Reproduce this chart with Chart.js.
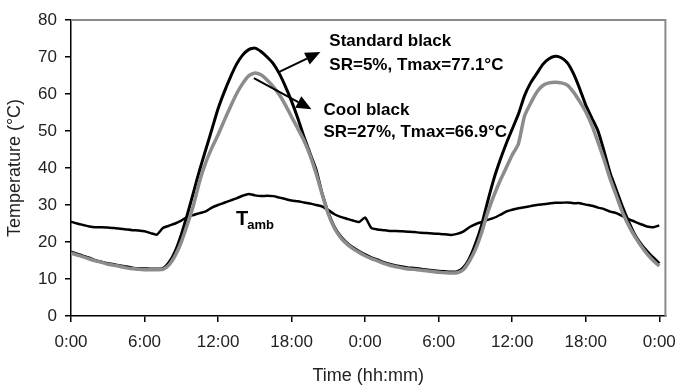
<!DOCTYPE html>
<html>
<head>
<meta charset="utf-8">
<script src="https://cdn.jsdelivr.net/npm/chart.js@4/dist/chart.umd.min.js"></script>
<style>
  body { margin: 0; background: #fff; }
  canvas { display: block; }
</style>
</head>
<body>
<canvas id="chart" width="686" height="387"></canvas>
<script>
// time in hours since start, one reading every half hour
const hours = [
  0, 0.5, 1, 1.5, 2, 2.5, 3, 3.5, 4, 4.5, 5, 5.5, 6, 6.5, 7, 7.5, 8, 8.5, 9, 9.5,
  10, 10.5, 11, 11.5, 12, 12.5, 13, 13.5, 14, 14.5, 15, 15.5, 16, 16.5, 17, 17.5, 18, 18.5, 19, 19.5,
  20, 20.5, 21, 21.5, 22, 22.5, 23, 23.5, 24, 24.5, 25, 25.5, 26, 26.5, 27, 27.5, 28, 28.5, 29, 29.5,
  30, 30.5, 31, 31.5, 32, 32.5, 33, 33.5, 34, 34.5, 35, 35.5, 36, 36.5, 37, 37.5, 38, 38.5, 39, 39.5,
  40, 40.5, 41, 41.5, 42, 42.5, 43, 43.5, 44, 44.5, 45, 45.5, 46, 46.5, 47, 47.5, 48
];

const standardBlack = [
  17.3, 16.8, 16.2, 15.7, 15.0, 14.6, 14.2, 13.9, 13.6, 13.3, 13.0, 12.8, 12.8, 12.7, 12.7, 12.8, 14.5, 17.5, 22.0, 27.5,
  33.5, 39.5, 45.0, 50.5, 56.0, 60.5, 64.5, 68.0, 70.5, 72.0, 72.4, 71.5, 70.0, 68.2, 65.5, 62.0, 58.0, 53.5, 48.5, 44.0,
  39.5, 33.0, 27.8, 24.0, 21.5, 19.8, 18.5, 17.5, 16.6, 15.8, 15.2, 14.5, 14.0, 13.6, 13.3, 13.0, 12.9, 12.7, 12.5, 12.3,
  12.1, 12.0, 11.9, 12.0, 13.0, 15.5, 19.5, 24.5, 31.0, 37.0, 42.0, 46.5, 50.5, 54.5, 59.5, 63.0, 65.5, 68.0, 69.5, 70.2,
  69.8, 68.4, 65.5, 61.5, 57.0, 53.5, 50.0, 44.5, 38.5, 34.0, 29.5, 25.5, 22.0, 19.5, 17.5, 15.8, 14.2
];

const coolBlack = [
  17.0, 16.5, 16.0, 15.4, 14.9, 14.5, 14.0, 13.7, 13.4, 13.0, 12.8, 12.6, 12.5, 12.5, 12.5, 12.6, 13.8, 16.3, 20.0, 24.8,
  30.0, 36.5, 41.5, 45.5, 49.0, 52.8, 56.5, 60.0, 62.8, 64.9, 65.7, 65.2, 63.8, 62.0, 59.8, 57.0, 53.8, 50.7, 47.5, 43.5,
  38.5, 32.8, 27.5, 23.7, 21.2, 19.5, 18.2, 17.2, 16.3, 15.5, 14.9, 14.2, 13.7, 13.3, 13.0, 12.7, 12.6, 12.4, 12.2, 12.0,
  11.8, 11.7, 11.6, 11.7, 12.5, 14.8, 18.0, 22.5, 28.0, 32.5, 36.5, 40.0, 43.5, 46.5, 54.0, 57.5, 60.5, 62.3, 63.0, 63.2,
  63.0, 62.4, 60.5, 58.0, 55.2, 51.5, 47.0, 42.2, 37.0, 32.5, 28.0, 24.5, 21.5, 19.0, 16.8, 15.0, 13.5
];

const ambient = [
  25.5, 25.0, 24.6, 24.2, 24.0, 24.0, 23.9, 23.8, 23.6, 23.4, 23.2, 23.1, 22.9, 22.4, 22.0, 23.8, 24.4, 25.0, 25.8, 26.8,
  27.3, 27.8, 28.3, 29.3, 30.0, 30.6, 31.2, 31.8, 32.5, 33.0, 32.6, 32.4, 32.5, 32.4, 32.0, 31.6, 31.2, 31.0, 30.7, 30.4,
  30.0, 29.6, 28.6, 27.5, 26.8, 26.3, 25.8, 25.4, 26.6, 23.8, 23.4, 23.2, 23.0, 23.0, 22.9, 22.8, 22.7, 22.5, 22.4, 22.3,
  22.2, 22.1, 21.9, 22.2, 22.8, 24.0, 24.8, 25.4, 26.0, 26.5, 27.3, 28.2, 28.7, 29.1, 29.4, 29.7, 30.0, 30.2, 30.4, 30.6,
  30.6, 30.7, 30.5, 30.5, 30.1, 29.8, 29.3, 28.9, 28.2, 27.8, 27.0, 26.2, 25.5, 24.8, 24.2, 24.0, 24.5
];

const tickHours = [0, 6, 12, 18, 24, 30, 36, 42, 48];
const tickLabels = ['0:00', '6:00', '12:00', '18:00', '0:00', '6:00', '12:00', '18:00', '0:00'];

// text notes, placed in data units (hours, °C)
const notes = [
  { text: 'Standard black', h: 21.08, t: 74.2 },
  { text: 'SR=5%, Tmax=77.1°C', h: 21.08, t: 67.8 },
  { text: 'Cool black', h: 20.6, t: 55.7 },
  { text: 'SR=27%, Tmax=66.9°C', h: 20.6, t: 49.6 }
];
const arrows = [
  { from: [16.95, 65.9], to: [20.35, 71.35] },
  { from: [14.92, 64.3], to: [19.62, 55.9] }
];
const ambLabel = { h: 13.46, t: 24.6 };

function pts(values) {
  return values.map((v, i) => ({ x: hours[i], y: v }));
}

const FONT = 'Arial, "Liberation Sans", sans-serif';

const notesPlugin = {
  id: 'notes',
  afterDraw(chart) {
    const { ctx, chartArea: a, scales: { x, y } } = chart;
    ctx.save();
    // grey frame on top and right
    ctx.strokeStyle = '#8a8a8a';
    ctx.lineWidth = 2;
    ctx.beginPath();
    ctx.moveTo(a.left, a.top);
    ctx.lineTo(a.right, a.top);
    ctx.lineTo(a.right, a.bottom);
    ctx.stroke();

    ctx.fillStyle = '#000';
    ctx.font = 'bold 17px ' + FONT;
    ctx.textAlign = 'left';
    ctx.textBaseline = 'middle';
    notes.forEach(n => ctx.fillText(n.text, x.getPixelForValue(n.h), y.getPixelForValue(n.t)));

    ctx.strokeStyle = '#000';
    ctx.lineWidth = 2;
    arrows.forEach(ar => {
      const x0 = x.getPixelForValue(ar.from[0]), y0 = y.getPixelForValue(ar.from[1]);
      const x1 = x.getPixelForValue(ar.to[0]), y1 = y.getPixelForValue(ar.to[1]);
      const ang = Math.atan2(y1 - y0, x1 - x0);
      const len = 15, half = 6.5;
      const bx = x1 - len * Math.cos(ang), by = y1 - len * Math.sin(ang);
      ctx.beginPath();
      ctx.moveTo(x0, y0);
      ctx.lineTo(bx, by);
      ctx.stroke();
      ctx.beginPath();
      ctx.moveTo(x1, y1);
      ctx.lineTo(bx + half * Math.sin(ang), by - half * Math.cos(ang));
      ctx.lineTo(bx - half * Math.sin(ang), by + half * Math.cos(ang));
      ctx.closePath();
      ctx.fill();
    });

    // T with subscript amb
    const lx = x.getPixelForValue(ambLabel.h), ly = y.getPixelForValue(ambLabel.t);
    ctx.textBaseline = 'alphabetic';
    ctx.font = 'bold 20px ' + FONT;
    ctx.fillText('T', lx, ly);
    const tw = ctx.measureText('T').width;
    ctx.font = 'bold 13px ' + FONT;
    ctx.fillText('amb', lx + tw - 1, ly + 4);
    ctx.restore();
  }
};

new Chart(document.getElementById('chart'), {
  type: 'line',
  data: {
    datasets: [
      { label: 'Cool black', data: pts(coolBlack), borderColor: '#8c8c8c', borderWidth: 3.5, order: 0 },
      { label: 'Standard black', data: pts(standardBlack), borderColor: '#000', borderWidth: 3, order: 1 },
      { label: 'Tamb', data: pts(ambient), borderColor: '#000', borderWidth: 2.5, order: 2 }
    ]
  },
  options: {
    responsive: false,
    animation: false,
    layout: { padding: { top: 20, right: 17, left: 0, bottom: 0 } },
    elements: {
      point: { radius: 0 },
      line: { tension: 0.2, fill: false, borderJoinStyle: 'round' }
    },
    plugins: {
      legend: { display: false },
      tooltip: { enabled: false }
    },
    scales: {
      x: {
        type: 'linear',
        min: 0,
        max: 48.5,
        afterBuildTicks: s => { s.ticks = tickHours.map(v => ({ value: v })); },
        afterFit: s => { s.height = 71; },
        ticks: {
          color: '#222',
          padding: 10,
          maxRotation: 0,
          autoSkip: false,
          font: { family: FONT, size: 17 },
          callback: v => tickLabels[tickHours.indexOf(v)]
        },
        grid: { drawOnChartArea: false, drawTicks: true, tickLength: 6, color: '#000', lineWidth: 1.5 },
        border: { color: '#000', width: 1.5 },
        title: {
          display: true,
          text: 'Time (hh:mm)',
          color: '#222',
          padding: { top: 0, bottom: 0 },
          font: { family: FONT, size: 18 }
        }
      },
      y: {
        min: 0,
        max: 80,
        afterFit: s => { s.width = 71; },
        ticks: {
          stepSize: 10,
          color: '#222',
          padding: 8,
          font: { family: FONT, size: 17 }
        },
        grid: { drawOnChartArea: false, drawTicks: true, tickLength: 6, color: '#000', lineWidth: 1.5 },
        border: { color: '#000', width: 1.5 },
        title: {
          display: true,
          text: 'Temperature (°C)',
          color: '#222',
          padding: { top: 4, bottom: 4 },
          font: { family: FONT, size: 18 }
        }
      }
    }
  },
  plugins: [notesPlugin]
});
</script>
</body>
</html>
